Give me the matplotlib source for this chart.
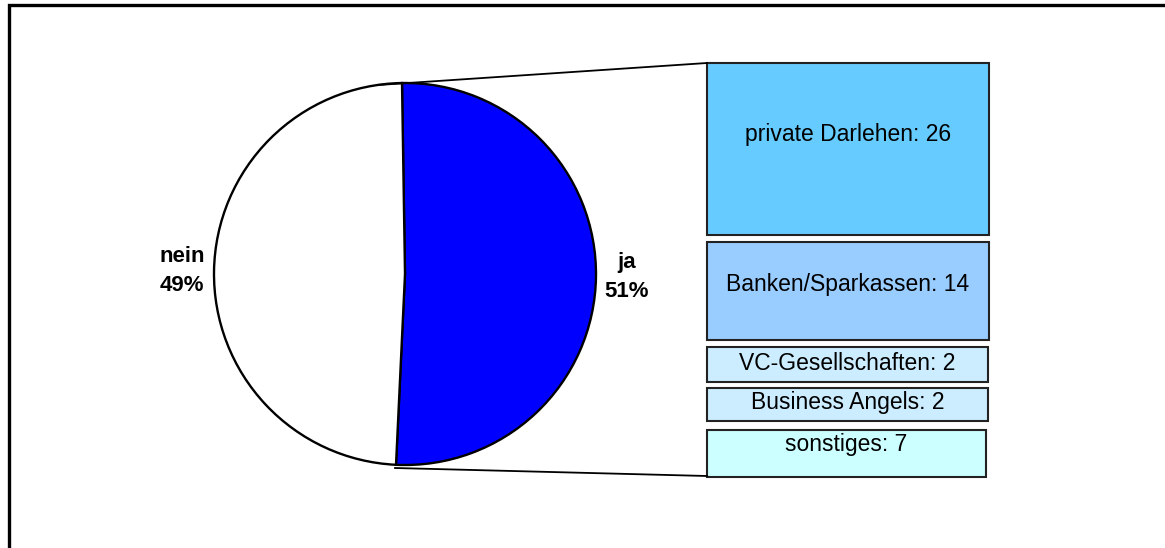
import matplotlib.pyplot as plt
from matplotlib.patches import Rectangle

plt.rcParams['font.family'] = ['Liberation Sans', 'DejaVu Sans']

# Daten
pie_labels = ['ja', 'nein']
pie_values = [51, 49]
pie_colors = ['#0000FF', '#FFFFFF']

quellen = ['private Darlehen', 'Banken/Sparkassen', 'VC-Gesellschaften',
           'Business Angels', 'sonstiges']
anzahl = [26, 14, 2, 2, 7]
box_colors = ['#66CCFF', '#99CCFF', '#CCECFF', '#CCECFF', '#CCFFFF']

# Layout der Kaesten (Pixel, y von oben)
box_left = 707
box_widths = [282, 282, 281, 281, 279]
box_tops = [63, 242, 347, 388, 430]
box_heights = [172, 98, 35, 33, 47]
text_offset = [-14, -6, -1.5, -1.5, -8.5]

H = 548
fig = plt.figure(figsize=(11.65, 5.48), dpi=100)
ax = fig.add_axes([0, 0, 1, 1])

# Kreis
cx, cy, r = 405, H - 274, 191
ax.pie(pie_values, colors=pie_colors, startangle=90.9, counterclock=False,
       center=(cx, cy), radius=r,
       wedgeprops=dict(edgecolor='black', linewidth=1.7))

ax.text(627, H - 277, f'{pie_labels[0]}\n{pie_values[0]}%', ha='center', va='center',
        fontsize=16, fontweight='bold', linespacing=1.45)
ax.text(182, H - 271, f'{pie_labels[1]}\n{pie_values[1]}%', ha='center', va='center',
        fontsize=16, fontweight='bold', linespacing=1.45)

# Kaesten
bottoms = [H - t - h for t, h in zip(box_tops, box_heights)]
ax.bar([box_left] * len(anzahl), box_heights, width=box_widths, bottom=bottoms,
       align='edge', color=box_colors, edgecolor='#222222', linewidth=1.5)
for name, n, b, h, w, off in zip(quellen, anzahl, bottoms, box_heights, box_widths, text_offset):
    ax.text(box_left + w / 2, b + h / 2 - off, f'{name}: {n}', ha='center', va='center',
            fontsize=16.5)

# Verbindungslinien
ax.plot([378, box_left], [H - 85, H - box_tops[0]], color='black', lw=1.3)
ax.plot([395, box_left], [H - 468, H - (box_tops[-1] + box_heights[-1] - 1)],
        color='black', lw=1.3)

# Rahmen
ax.add_patch(Rectangle((9, -100), 1300, H - 5 + 100, fill=False,
                       edgecolor='black', linewidth=2.4))

ax.set_xlim(0, 1165)
ax.set_ylim(0, H)
ax.set_aspect('auto')
ax.axis('off')

fig.savefig('out.png', dpi=100)
